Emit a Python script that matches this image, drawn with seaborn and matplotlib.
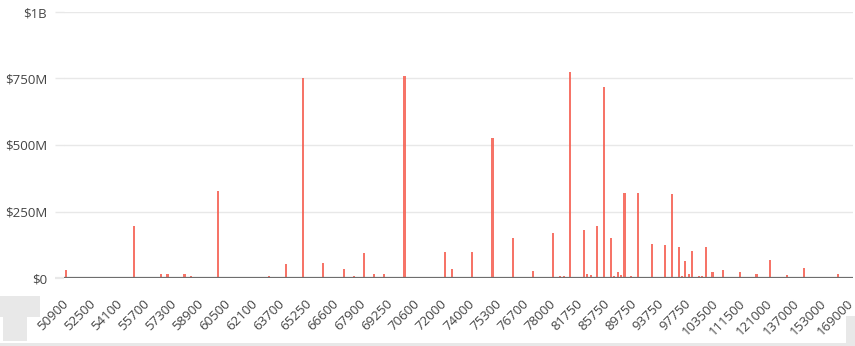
import matplotlib
matplotlib.use("Agg")
import matplotlib.pyplot as plt
import seaborn as sns
import pandas as pd
from matplotlib.patches import Rectangle

# ---- data -------------------------------------------------------------
tick_labels = ["50900", "52500", "54100", "55700", "57300", "58900", "60500",
               "62100", "63700", "65250", "66600", "67900", "69250", "70600",
               "72000", "74000", "75300", "76700", "78000", "81750", "85750",
               "89750", "93750", "97750", "103500", "111500", "121000",
               "137000", "153000", "169000"]
slots_per_label = 8   # category index step between shown labels

# category index (0 = first category) and amount in $M
bar_slot = [0, 8, 20, 22, 25, 28, 30, 35, 37, 45, 55, 60, 65, 70, 76, 82, 85,
            86, 88, 91, 94, 100, 108, 112, 114, 120, 126, 132, 138, 144, 146,
            147, 148, 149, 150, 153, 154, 155, 157, 159, 161, 162, 163, 164,
            165, 167, 169, 171, 173, 175, 176, 177, 179, 180, 181, 182, 183,
            184, 185, 186, 187, 188, 189, 191, 193, 194, 195, 197, 199, 204,
            208, 211, 213, 218, 223, 228]
bar_value_musd = [31, 5, 195, 5, 5, 14, 16, 16, 9, 327, 5, 9, 51, 752, 57, 35,
                  9, 5, 95, 14, 15, 759, 5, 98, 35, 97, 525, 149, 26, 170, 9,
                  9, 4, 775, 4, 182, 16, 12, 195, 717, 151, 9, 22, 12, 320, 9,
                  320, 4, 127, 4, 4, 124, 317, 4, 115, 9, 64, 16, 102, 4, 9, 9,
                  117, 22, 5, 30, 5, 4, 22, 16, 69, 4, 12, 37, 4, 16]

y_ticks = [0, 250e6, 500e6, 750e6, 1e9]
y_tick_labels = ["$0", "$250M", "$500M", "$750M", "$1B"]

# ---- style ------------------------------------------------------------
sns.set_theme(style="white")
plt.rcParams['font.family'] = ['Open Sans', 'DejaVu Sans']

W, H = 855, 346
fig = plt.figure(figsize=(W / 100, H / 100), dpi=100)
fig.patch.set_facecolor("white")

left, right, top, bottom = 64.3, 853, 12, 278
ax = fig.add_axes([left / W, (H - bottom) / H, (right - left) / W, (bottom - top) / H])

n_slots = (len(tick_labels) - 1) * slots_per_label + 1
df = pd.DataFrame({"slot": bar_slot,
                   "value": [v * 1e6 for v in bar_value_musd]})
sns.barplot(data=df, x="slot", y="value", order=list(range(n_slots)),
            width=0.62, color="#f4604f", errorbar=None, ax=ax, zorder=2)
for p in ax.patches:
    p.set_facecolor((0.96, 0.36, 0.30, 0.85))
    p.set_edgecolor("none")
    p.set_linewidth(0)

ax.set_xlim(-0.5, n_slots - 0.5)
ax.set_ylim(0, 1e9)
ax.set_xlabel("")
ax.set_ylabel("")

ax.set_yticks(y_ticks)
ax.set_yticklabels(y_tick_labels)
ax.set_xticks(list(range(0, n_slots, slots_per_label)))
ax.set_xticklabels(tick_labels, rotation=45, ha="right", va="center",
                   rotation_mode="anchor")

for s in ax.spines.values():
    s.set_visible(False)

ax.yaxis.grid(True, color="#e8e8e8", lw=1)
ax.xaxis.grid(False)
ax.set_axisbelow(True)
ax.axhline(0, color="#6e6e6e", lw=1.6, zorder=3)

ax.tick_params(axis="y", length=6.5, width=1, color="#e8e8e8", pad=6,
               labelsize=9.5, labelcolor="#444444", left=True)
ax.tick_params(axis="x", length=0, pad=17, labelsize=9.5, labelcolor="#444444",
               bottom=True)
yt = ax.yaxis.get_major_ticks()
yt[0].tick1line.set_color("#6e6e6e")
yt[0].tick1line.set_markeredgewidth(1.6)

# light grey page furniture around the chart
def px_rect(x0, y0, x1, y1, color="#e8e8e8"):
    fig.add_artist(Rectangle((x0 / W, (H - y1) / H), (x1 - x0) / W, (y1 - y0) / H,
                             transform=fig.transFigure, color=color, lw=0, zorder=0))

px_rect(0, 296, 40, 317)
px_rect(3, 317, 27, 341)
px_rect(0, 343, 855, 346)
px_rect(846, 316, 855, 343)

fig.savefig("out.png", dpi=100)
